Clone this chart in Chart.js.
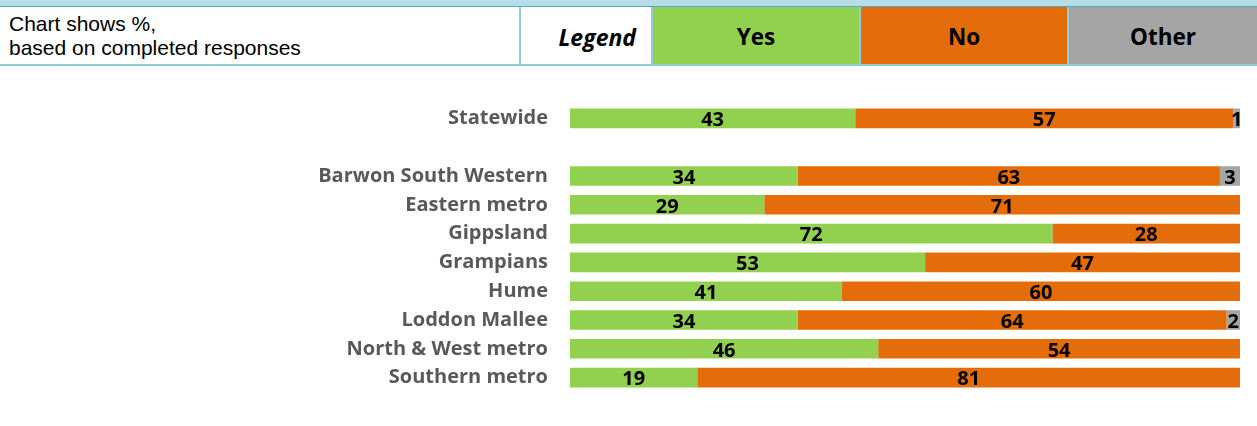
<!DOCTYPE html>
<html>
<head>
<meta charset="utf-8">
<script src="https://cdn.jsdelivr.net/npm/chart.js@4"></script>
<style>
  html, body { margin:0; padding:0; background:#fff; }
  #wrap { position:relative; width:1257px; height:426px; overflow:hidden; }
  #topband { position:absolute; left:0; top:0; width:1257px; height:6px; background:#b7dde8; border-bottom:1px solid #4bacc6; }
  #hdr { position:absolute; left:0; top:7px; width:1257px; height:57px; border-bottom:2px solid #92cddc; }
  .cell { position:absolute; top:0; height:57px; box-sizing:border-box; display:flex; align-items:center; justify-content:center; font-family:"Open Sans", sans-serif; font-weight:bold; font-size:22.5px; color:#000; padding-top:2px; }
  #note { left:0; width:521px; justify-content:flex-start; padding-left:9px; padding-top:0; font-family:"Liberation Sans", Arial, sans-serif; font-weight:normal; font-size:21px; line-height:24px; border-right:2px solid #92cddc; }
  #leg { left:521px; width:132px; justify-content:flex-end; padding-right:15px; font-style:italic; font-size:23px; border-right:2px solid #92cddc; }
  canvas { position:absolute; left:0; top:0; }
</style>
</head>
<body>
<div id="wrap">
  <div id="topband"></div>
  <div id="hdr">
    <div class="cell" id="note"><div>Chart shows %,<br>based on completed responses</div></div>
    <div class="cell" id="leg">Legend</div>
    <div class="cell" id="lyes" style="left:653px;width:208px;border-right:2px solid #92cddc;"></div>
    <div class="cell" id="lno" style="left:861px;width:208px;border-right:2px solid #92cddc;"></div>
    <div class="cell" id="loth" style="left:1069px;width:188px;"></div>
  </div>
  <canvas id="c" width="1257" height="426"></canvas>
</div>
<script>
const categories = ["Statewide", "", "Barwon South Western", "Eastern metro", "Gippsland", "Grampians", "Hume", "Loddon Mallee", "North & West metro", "Southern metro"];
const seriesNames = ["Yes", "No", "Other"];
const seriesColors = ["#92d050", "#e46c0a", "#a5a5a5"];
const yesValues   = [43, null, 34, 29, 72, 53, 41, 34, 46, 19];
const noValues    = [57, null, 63, 71, 28, 47, 60, 64, 54, 81];
const otherValues = [1,  null, 3,  0,  0,  0,  0,  2,  0,  0];

const raw = [yesValues, noValues, otherValues];
const rowSums = categories.map((_, i) => raw.reduce((s, arr) => s + (arr[i] || 0), 0));

// Header legend cells
const legIds = ["lyes", "lno", "loth"];
legIds.forEach((id, k) => {
  const el = document.getElementById(id);
  el.textContent = seriesNames[k];
  el.style.background = seriesColors[k];
});

const datasets = raw.map((arr, k) => ({
  label: seriesNames[k],
  data: arr.map((v, i) => (v === null || rowSums[i] === 0) ? null : v / rowSums[i] * 100),
  rawValues: arr,
  backgroundColor: seriesColors[k],
  borderWidth: 0,
  barPercentage: 0.68,
  categoryPercentage: 1.0
}));

const labelPlugin = {
  id: 'segLabels',
  afterDatasetsDraw(chart) {
    const ctx = chart.ctx;
    ctx.save();
    ctx.font = 'bold 20px "Open Sans", sans-serif';
    ctx.fillStyle = '#000';
    ctx.textAlign = 'center';
    ctx.textBaseline = 'middle';
    chart.data.datasets.forEach((ds, di) => {
      const meta = chart.getDatasetMeta(di);
      meta.data.forEach((bar, i) => {
        const v = ds.rawValues[i];
        if (!v) return;
        const x = (bar.x + bar.base) / 2;
        ctx.fillText(String(v), x, bar.y + 2);
      });
    });
    ctx.restore();
  }
};

new Chart(document.getElementById('c'), {
  type: 'bar',
  data: { labels: categories, datasets },
  options: {
    indexAxis: 'y',
    responsive: false,
    animation: false,
    layout: { padding: { top: 104, bottom: 24, right: 17, left: 0 } },
    plugins: { legend: { display: false }, tooltip: { enabled: false } },
    scales: {
      x: { stacked: true, min: 0, max: 100, display: false },
      y: {
        stacked: true,
        grid: { display: false, drawTicks: false },
        border: { display: false },
        afterFit(scale) { scale.width = 570; },
        ticks: {
          padding: 22,
          color: '#595959',
          font: { family: '"Open Sans", sans-serif', weight: 'bold', size: 20 }
        }
      }
    }
  },
  plugins: [labelPlugin]
});
</script>
</body>
</html>
